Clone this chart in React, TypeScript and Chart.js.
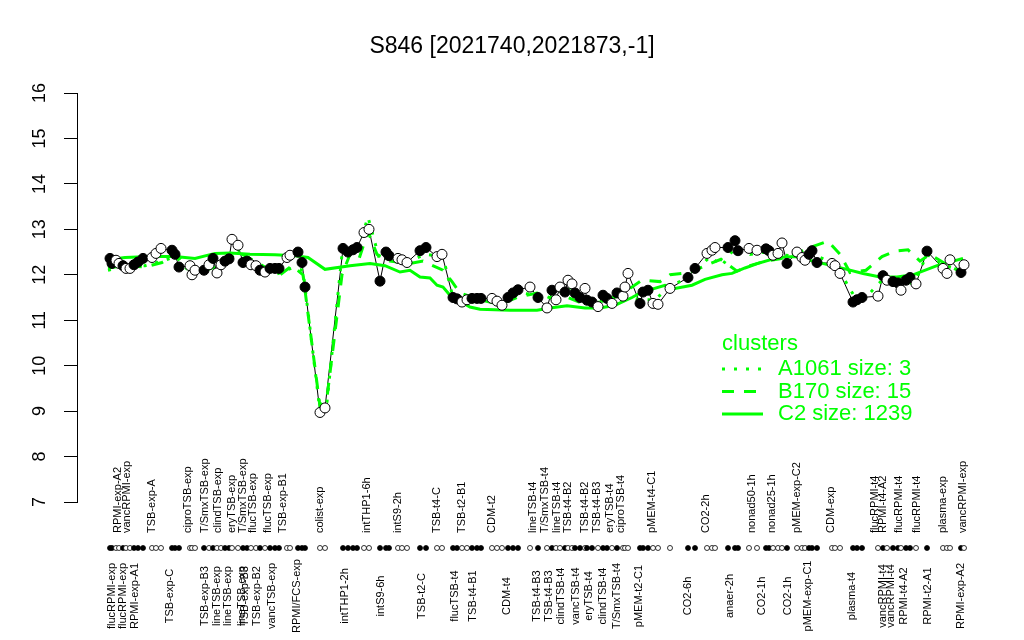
import React, { useEffect, useRef } from "react";
import { Chart, registerables } from "chart.js";

Chart.register(...registerables);

const FONT = "'Liberation Sans', Arial, Helvetica, sans-serif";
const GREEN = "#00ff00";
const TITLE = "S846 [2021740,2021873,-1]";

// sample positions along the condition axis, expression values, filled (1) / open (0)
const pointX = [
  6.6, 7.0, 7.8, 8.4, 9.2, 9.8, 10.6, 11.4, 12.2, 13.2, 15.0, 15.8, 16.8, 19.0, 19.6, 20.4, 22.6, 23.0, 23.6,
  25.4, 26.4, 27.2, 28.0, 28.8, 29.6, 30.4, 31.0, 32.2, 33.2, 34.0, 34.8, 35.8, 36.6, 37.6, 38.6, 39.6, 40.4,
  42.0, 42.6, 44.2, 45.0, 45.6, 48.6, 49.6,
  53.2, 54.2, 55.2, 56.0, 57.4, 58.4, 60.6, 61.8, 62.4, 64.2, 65.0, 66.0, 68.6, 69.8, 72.0, 73.0, 75.2, 76.0,
  77.0, 78.0, 79.0, 80.0, 80.8, 83.0, 84.0, 85.0, 86.2, 87.2, 88.2, 90.6, 92.2, 94.0, 95.0, 95.8, 96.6, 97.6,
  98.2, 99.0, 99.6, 100.6, 101.6, 102.0, 103.0, 104.2, 105.2, 106.0, 107.0, 108.0, 109.2, 109.6, 110.2, 112.6,
  113.2, 114.2, 115.2, 116.2, 118.6,
  122.2, 123.6, 126.0, 127.0, 127.6, 130.2, 131.6, 132.2, 134.4, 136.0, 137.8, 138.4, 139.2, 140.2, 141.0,
  142.0, 144.0, 145.0, 145.6, 146.4, 147.0, 148.0, 151.0, 151.6, 152.6, 155.2, 156.0, 157.0, 160.2, 161.2,
  162.0, 163.2, 164.2, 164.8, 165.8, 166.6, 167.8, 170.0, 173.2, 174.0, 174.6, 176.8, 177.4,
];
const pointY = [
  12.36, 12.25, 12.32, 12.25, 12.2, 12.14, 12.14, 12.22, 12.28, 12.36, 12.38, 12.47, 12.58, 12.54, 12.45, 12.17,
  12.2, 12.0, 12.1, 12.1, 12.22, 12.36, 12.04, 12.22, 12.3, 12.35, 12.78, 12.65, 12.27, 12.3, 12.22, 12.2, 12.1,
  12.06, 12.14, 12.14, 12.14, 12.38, 12.43, 12.5, 12.27, 11.73, 8.97, 9.07,
  12.58, 12.5, 12.55, 12.6, 12.93, 13.0, 11.86, 12.5, 12.42, 12.36, 12.33, 12.27, 12.53, 12.6, 12.4, 12.45,
  11.5, 11.47, 11.4, 11.45, 11.48, 11.48, 11.48, 11.48, 11.42, 11.33, 11.5, 11.6, 11.67, 11.73, 11.5, 11.27,
  11.66, 11.45, 11.73, 11.62, 11.88, 11.8, 11.6, 11.5, 11.7, 11.44, 11.4, 11.3, 11.55, 11.48, 11.37, 11.6,
  11.53, 11.73, 12.03, 11.37, 11.62, 11.66, 11.37, 11.35, 11.7,
  11.94, 12.14, 12.47, 12.54, 12.6, 12.6, 12.75, 12.53, 12.58, 12.54, 12.57, 12.53, 12.43, 12.47, 12.7, 12.25,
  12.5, 12.38, 12.32, 12.45, 12.53, 12.27, 12.25, 12.2, 12.03, 11.4, 11.45, 11.5, 11.53, 11.98, 11.88, 11.85,
  11.82, 11.66, 11.88, 11.94, 11.8, 12.52, 12.14, 12.03, 12.33, 12.05, 12.22,
];
const pointFilled = [
  1, 1, 0, 0, 1, 0, 0, 1, 1, 1, 0, 0, 0, 1, 1, 1, 0, 0, 0,
  1, 0, 1, 0, 0, 1, 1, 0, 0, 1, 1, 0, 0, 1, 0, 1, 1, 1, 0, 0, 1, 1, 1, 0, 0,
  1, 1, 1, 1, 0, 0, 1, 1, 1, 0, 0, 0, 1, 1, 0, 0, 1, 1, 0, 0, 1, 1, 1, 0, 0, 0, 1, 1, 1,
  0, 1, 0, 1, 0, 0, 1, 0, 0, 1, 1, 0, 1, 1, 0, 1, 1, 0, 1, 0, 0, 0, 1, 1, 1, 0, 0, 0,
  1, 1, 0, 0, 0, 1, 1, 1, 0, 0, 1, 1, 0, 0, 0, 1, 0, 0, 0, 1, 1, 1, 0, 0, 0, 1, 1, 1,
  0, 1, 0, 1, 1, 0, 1, 1, 0, 1, 0, 0, 0, 1, 0,
];

// cluster profiles
const c2X = [
  6.2, 9.6, 14.6, 19.6, 23.6, 27.6, 30.6, 34.6, 39.6, 43.6, 46.2, 49.6, 54.6, 58.6, 61.6, 64.6, 66.6, 68.6, 70.6,
  72.0, 73.2, 74.6, 78.6, 80.6, 86.6, 92.0, 94.6, 98.0, 101.6, 104.6, 107.6, 111.0, 113.0, 117.6, 119.6, 123.0,
  125.6, 129.0, 131.0, 133.6, 136.2, 140.2, 143.6, 147.2, 153.2, 157.2, 160.6, 164.0, 167.2, 172.0, 177.2,
];
const c2Y = [
  12.33, 12.38, 12.4, 12.4, 12.36, 12.47, 12.48, 12.45, 12.44, 12.42, 12.38, 12.12, 12.2, 12.25, 12.2, 12.06, 12.1,
  11.95, 11.93, 11.77, 11.73, 11.55, 11.29, 11.24, 11.22, 11.22, 11.27, 11.32, 11.27, 11.27, 11.33, 11.5, 11.62,
  11.77, 11.7, 11.77, 11.9, 12.0, 12.03, 12.15, 12.25, 12.38, 12.4, 12.3, 12.14, 12.03, 11.95, 11.95, 12.0, 12.2,
  12.36,
];
const b170X = [
  6.2, 9.6, 13.6, 17.0, 19.8, 21.6, 23.0, 25.6, 28.6, 32.2, 35.6, 38.6, 40.6, 43.0, 45.2, 48.6, 50.0, 53.0, 54.6,
  56.4, 58.2, 60.0, 62.6, 66.6, 69.2, 73.2, 75.0, 76.6, 80.6, 84.6, 88.0, 92.0, 95.6, 98.2, 101.6, 104.6, 108.6,
  113.0, 116.6, 118.6, 122.6, 125.6, 128.8, 132.0, 134.6, 137.6, 140.6, 143.6, 146.6, 150.2, 152.6, 154.6, 157.8,
  161.0, 163.6, 166.2, 168.6, 170.6, 173.6, 177.0,
];
const b170Y = [
  12.15, 12.2, 12.17, 12.27, 12.45, 12.3, 12.0, 12.1, 12.2, 12.5, 12.3, 12.1, 12.0, 12.2, 12.0, 9.1, 9.3, 12.0,
  12.45, 12.35, 12.95, 12.45, 12.3, 12.25, 12.3, 12.1, 11.85, 11.6, 11.45, 11.35, 11.5, 11.6, 11.45, 11.5, 11.35,
  11.4, 11.55, 11.88, 11.85, 12.0, 12.05, 12.2, 12.34, 12.08, 12.2, 12.3, 12.35, 12.45, 12.6, 12.74, 12.45, 12.05,
  12.1, 12.4, 12.52, 12.55, 12.3, 12.45, 12.25, 12.05,
];
const a1061X = [
  6.2, 9.6, 13.6, 17.0, 19.8, 22.6, 25.6, 28.6, 32.2, 35.6, 39.6, 43.0, 45.2, 48.6, 50.0, 53.0, 56.0, 58.2, 60.6,
  63.6, 66.6, 69.6, 73.2, 75.2, 78.6, 82.6, 85.6, 88.6, 92.6, 95.6, 98.2, 101.6, 104.6, 108.6, 112.6, 115.6, 118.6,
  122.6, 126.6, 129.0, 131.6, 134.6, 137.6, 140.6, 143.6, 147.0, 151.6, 155.6, 158.6, 161.6, 164.6, 167.6, 170.0,
  173.6, 177.0,
];
const a1061Y = [
  12.1, 12.18, 12.2, 12.3, 12.4, 12.05, 12.15, 12.25, 12.55, 12.25, 12.0, 12.15, 12.1, 9.0, 9.2, 12.45, 12.5, 13.27,
  12.3, 12.45, 12.3, 12.45, 12.4, 11.5, 11.45, 11.45, 11.4, 11.6, 11.55, 11.5, 11.75, 11.5, 11.4, 11.55, 11.45,
  11.45, 11.75, 11.95, 12.4, 12.2, 12.6, 12.45, 12.5, 12.45, 12.4, 12.45, 12.25, 11.5, 11.6, 11.95, 11.75, 11.85,
  12.45, 12.2, 12.1,
];

const topLabels = [
  "RPMI-exp-A2", "vancRPMI-exp", "TSB-exp-A", "ciproTSB-exp", "T/SmxTSB-exp", "clindTSB-exp", "eryTSB-exp",
  "T/SmxTSB-exp", "flucTSB-exp", "flucTSB-exp", "TSB-exp-B1", "colist-exp", "intTHP1-6h", "intS9-2h", "TSB-t4-C",
  "TSB-t2-B1", "CDM-t2", "lineTSB-t4", "T/SmxTSB-t4", "lineTSB-t4", "TSB-t4-B2", "TSB-t4-B2", "TSB-t4-B3",
  "eryTSB-t4", "ciproTSB-t4", "pMEM-t4-C1", "CO2-2h", "nonad50-1h", "nonad25-1h", "pMEM-exp-C2", "CDM-exp",
  "flucRPMI-t4", "RPMI-t4-A2", "flucRPMI-t4", "flucRPMI-t4", "plasma-exp", "vancRPMI-exp",
];
const topLabelX = [
  8.2, 10.0, 15.0, 22.2, 25.6, 28.2, 31.0, 33.2, 35.2, 38.2, 41.2, 48.6, 58.0, 64.2, 72.0, 77.0, 83.0, 91.2, 93.6,
  96.0, 98.2, 101.6, 104.0, 106.6, 108.8, 115.0, 125.8, 135.0, 139.0, 144.0, 150.8, 159.6, 161.2, 164.4, 168.0,
  173.2, 177.2,
];
const bottomLabels = [
  "flucRPMI-exp", "flucRPMI-exp", "RPMI-exp-A1", "TSB-exp-C", "TSB-exp-B3", "lineTSB-exp", "lineTSB-exp",
  "lineTSB-exp", "TSB-exp-B3", "TSB-exp-B2", "vancTSB-exp", "RPMI/FCS-exp", "intTHP1-2h", "intS9-6h", "TSB-t2-C",
  "flucTSB-t4", "TSB-t4-B1", "CDM-t4", "TSB-t4-B3", "TSB-t4-B3", "clindTSB-t4", "vancTSB-t4", "eryTSB-t4",
  "clindTSB-t4", "T/SmxTSB-t4", "pMEM-t2-C1", "CO2-6h", "anaer-2h", "CO2-1h", "CO2-1h", "pMEM-exp-C1",
  "plasma-t4", "vancRPMI-t4", "vancRPMI-t4", "RPMI-t4-A2", "RPMI-t2-A1", "RPMI-exp-A2",
];
const bottomLabelX = [
  7.0, 9.2, 11.6, 18.6, 25.6, 28.0, 30.2, 33.0, 33.6, 36.0, 39.0, 44.0, 53.6, 60.8, 69.0, 75.6, 79.2, 86.0, 92.0,
  94.4, 96.8, 99.8, 102.4, 105.2, 108.0, 112.4, 122.2, 130.6, 137.0, 142.2, 146.2, 155.0, 161.2, 162.8, 165.4,
  170.2, 176.8,
];

const legendTitle = "clusters";
const legendNames = ["A1061 size: 3", "B170 size: 15", "C2 size: 1239"];
const legendDashes = [[3, 9], [12, 10], []];

const RUG_LEVEL = 5.988;

const overlayPlugin = {
  id: "overlay",
  afterDraw(chart: any) {
    const ctx = chart.ctx as CanvasRenderingContext2D;
    const xs = chart.scales.x;
    const ys = chart.scales.y;
    ctx.save();
    // y tick labels, rotated like the original
    ctx.fillStyle = "#000";
    ctx.font = `18px ${FONT}`;
    ys.ticks.forEach((t: any) => {
      ctx.save();
      ctx.translate(40, ys.getPixelForValue(t.value));
      ctx.rotate(-Math.PI / 2);
      ctx.textAlign = "center";
      ctx.textBaseline = "middle";
      ctx.fillText(String(t.value), 0, 0);
      ctx.restore();
    });
    // rug of samples
    const ry = ys.getPixelForValue(RUG_LEVEL);
    pointX.forEach((x, i) => {
      ctx.beginPath();
      ctx.arc(xs.getPixelForValue(x), ry, 2.5, 0, Math.PI * 2);
      ctx.fillStyle = pointFilled[i] ? "#000" : "#fff";
      ctx.fill();
      ctx.lineWidth = 0.8;
      ctx.strokeStyle = "#000";
      ctx.stroke();
    });
    // title
    ctx.fillStyle = "#000";
    ctx.font = `23px ${FONT}`;
    ctx.textAlign = "center";
    ctx.textBaseline = "middle";
    ctx.fillText(TITLE, chart.width / 2, 47);
    // condition labels
    ctx.font = `11px ${FONT}`;
    topLabels.forEach((t, i) => {
      ctx.save();
      ctx.translate(xs.getPixelForValue(topLabelX[i]), 533);
      ctx.rotate(-Math.PI / 2);
      ctx.textAlign = "left";
      ctx.textBaseline = "middle";
      ctx.fillText(t, 0, 0);
      ctx.restore();
    });
    bottomLabels.forEach((t, i) => {
      ctx.save();
      ctx.translate(xs.getPixelForValue(bottomLabelX[i]), 596);
      ctx.rotate(-Math.PI / 2);
      ctx.textAlign = "center";
      ctx.textBaseline = "middle";
      ctx.fillText(t, 0, 0);
      ctx.restore();
    });
    // legend
    ctx.fillStyle = GREEN;
    ctx.strokeStyle = GREEN;
    ctx.font = `22px ${FONT}`;
    ctx.textAlign = "center";
    ctx.fillText(legendTitle, 760, 344);
    ctx.textAlign = "left";
    legendNames.forEach((name, i) => {
      const y = 369 + i * 22.5;
      ctx.beginPath();
      ctx.setLineDash(legendDashes[i]);
      ctx.lineWidth = 3;
      ctx.moveTo(722, y);
      ctx.lineTo(763, y);
      ctx.stroke();
      ctx.setLineDash([]);
      ctx.fillText(name, 778, y);
    });
    ctx.restore();
  },
};

export default function App() {
  const canvasRef = useRef<HTMLCanvasElement | null>(null);

  useEffect(() => {
    if (!canvasRef.current) return;
    const pts = pointX.map((x, i) => ({ x, y: pointY[i] }));
    const series = (xs: number[], ys: number[]) => xs.map((x, i) => ({ x, y: ys[i] }));
    const chart = new Chart(canvasRef.current, {
      type: "scatter",
      data: {
        datasets: [
          {
            label: "profile",
            data: pts,
            showLine: false,
            pointRadius: 5,
            pointBorderWidth: 1,
            pointBorderColor: "#000",
            pointBackgroundColor: pointFilled.map((f) => (f ? "#000" : "#fff")),
            order: 0,
          },
          {
            label: "A1061",
            data: series(a1061X, a1061Y),
            showLine: true,
            borderColor: GREEN,
            borderWidth: 3,
            borderDash: [3, 9],
            pointRadius: 0,
            order: 1,
          },
          {
            label: "B170",
            data: series(b170X, b170Y),
            showLine: true,
            borderColor: GREEN,
            borderWidth: 3,
            borderDash: [12, 10],
            pointRadius: 0,
            order: 2,
          },
          {
            label: "C2",
            data: series(c2X, c2Y),
            showLine: true,
            borderColor: GREEN,
            borderWidth: 3,
            pointRadius: 0,
            order: 3,
          },
          {
            label: "line",
            data: pts,
            showLine: true,
            borderColor: "#000",
            borderWidth: 1,
            pointRadius: 0,
            order: 4,
          },
        ],
      } as any,
      options: {
        responsive: false,
        animation: false,
        devicePixelRatio: 1,
        events: [],
        layout: { padding: { top: 93, bottom: 138, left: 0, right: 39 } },
        plugins: {
          legend: { display: false },
          title: { display: false },
          tooltip: { enabled: false },
        },
        scales: {
          x: { type: "linear", display: false, min: 0, max: 181.6 },
          y: {
            type: "linear",
            min: 7,
            max: 16,
            afterFit: (s: any) => {
              s.width = 77;
            },
            ticks: {
              stepSize: 1,
              display: false,
            },
            grid: {
              drawOnChartArea: false,
              drawTicks: true,
              tickLength: 13,
              color: "#000",
              lineWidth: 1,
            },
            border: { display: true, color: "#000", width: 1 },
          },
        },
      } as any,
      plugins: [overlayPlugin],
    });
    return () => chart.destroy();
  }, []);

  return (
    <div style={{ position: "fixed", left: 0, top: 0, width: 1024, height: 640, background: "#fff" }}>
      <canvas ref={canvasRef} width={1024} height={640} style={{ display: "block" }} />
    </div>
  );
}
